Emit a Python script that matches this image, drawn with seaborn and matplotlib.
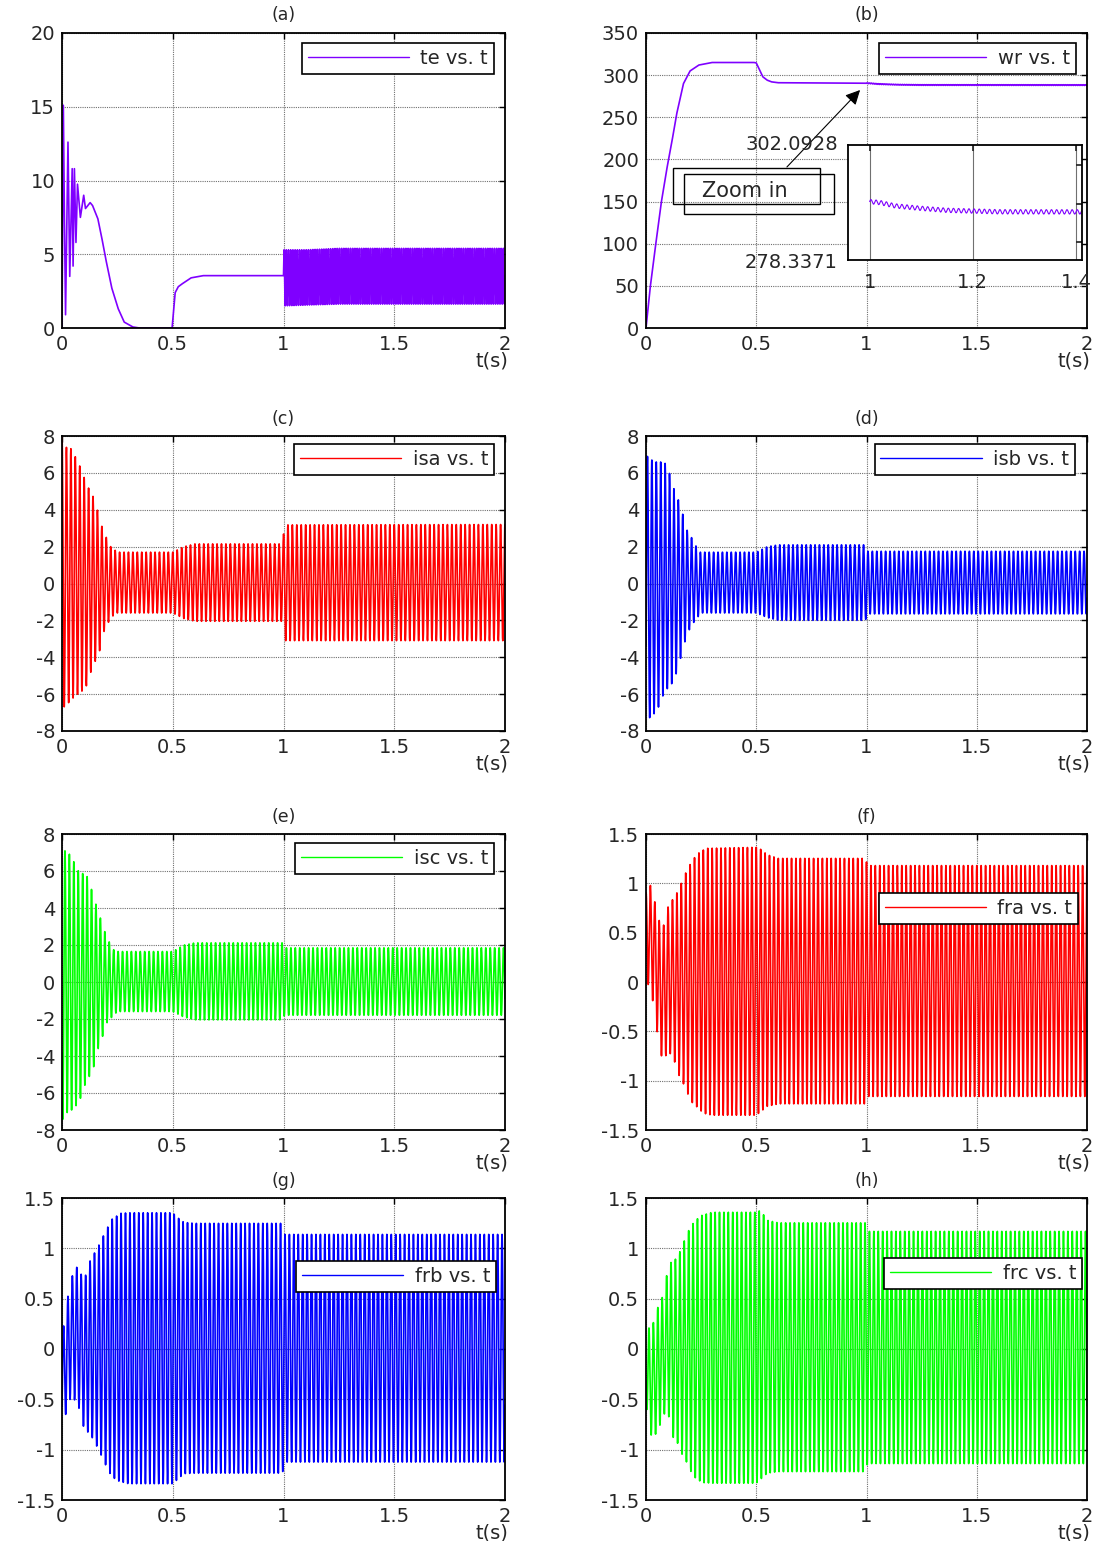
import numpy as np
import matplotlib
matplotlib.use("Agg")
import matplotlib.pyplot as plt
import seaborn as sns
from matplotlib.patches import Rectangle, FancyArrowPatch

# ---------------------------------------------------------------------------
# Simulation settings
# ---------------------------------------------------------------------------
T_END = 2.0
DT = 1 / 2000           # logged step of every quantity (s)
F_SUPPLY = 50.0         # stator / flux frequency (Hz)
F_RIPPLE = 100.0        # torque / speed ripple after the fault (Hz)

# ---------------------------------------------------------------------------
# Electromagnetic torque te (N.m)
# ---------------------------------------------------------------------------
TE_T = [0.0, 0.006, 0.011, 0.016, 0.027, 0.035, 0.046, 0.05, 0.056, 0.063,
        0.07, 0.083, 0.098, 0.106, 0.127, 0.138, 0.162, 0.181, 0.2, 0.225,
        0.254, 0.281, 0.32, 0.35, 0.497, 0.511, 0.525, 0.543, 0.583, 0.638, 1.0]
TE_V = [0.0, 15.1, 7.4, 0.9, 12.6, 3.5, 10.8, 4.2, 10.8, 5.8,
        9.75, 7.5, 9.0, 8.1, 8.5, 8.3, 7.4, 6.0, 4.5, 2.7,
        1.3, 0.4, 0.07, 0.0, 0.0, 2.4, 2.8, 3.0, 3.4, 3.55, 3.55]
TE_RIP_T = [1.0, 1.1, 1.25, 2.0]
TE_RIP_UP = [5.3, 5.3, 5.4, 5.4]
TE_RIP_LO = [1.5, 1.55, 1.62, 1.62]

# ---------------------------------------------------------------------------
# Rotor speed wr (rad/s)
# ---------------------------------------------------------------------------
WR_T = [0.0, 0.02, 0.045, 0.07, 0.096, 0.12, 0.14, 0.17, 0.2, 0.24, 0.3,
        0.49, 0.5, 0.51, 0.53, 0.55, 0.57, 0.6, 1.0]
WR_V = [0.0, 50, 101, 150, 191, 225, 255, 290, 305, 312, 315,
        315, 314.5, 309, 298, 294, 292, 291, 290.4]
WR_RIP_T = [1.0, 1.02, 1.05, 1.1, 1.15, 1.25, 2.0]
WR_RIP_MEAN = [290.4, 290.2, 289.5, 289.0, 288.6, 288.3, 288.2]
WR_RIP_AMP = 0.45
WR_ZOOM_LIM = (278.3371, 302.0928)

# ---------------------------------------------------------------------------
# Stator currents: upper / lower envelopes (A)
# ---------------------------------------------------------------------------
ISA_UP_T = [0.0, 0.016, 0.043, 0.083, 0.114, 0.138, 0.162, 0.18, 0.2, 0.22,
            0.25, 0.5, 0.55, 0.6, 0.995, 1.005, 2.0]
ISA_UP = [8.0, 7.4, 7.3, 6.3, 5.3, 4.8, 3.9, 3.1, 2.5, 2.0,
          1.7, 1.7, 2.0, 2.15, 2.15, 3.18, 3.2]
ISA_LO_T = [0.0, 0.027, 0.059, 0.106, 0.127, 0.154, 0.175, 0.19, 0.21, 0.225,
            0.25, 0.5, 0.55, 0.6, 0.995, 1.005, 2.0]
ISA_LO = [-6.8, -6.5, -6.1, -5.7, -4.9, -4.1, -3.5, -2.6, -2.1, -1.8,
          -1.6, -1.6, -1.9, -2.05, -2.05, -3.1, -3.1]

ISB_UP_T = [0.0, 0.01, 0.027, 0.047, 0.068, 0.092, 0.11, 0.13, 0.148, 0.168,
            0.186, 0.216, 0.24, 0.5, 0.55, 0.6, 0.995, 1.005, 2.0]
ISB_UP = [6.9, 6.9, 6.7, 6.6, 6.6, 6.5, 5.85, 5.0, 4.5, 3.7,
          2.9, 2.3, 1.7, 1.7, 2.0, 2.1, 2.1, 1.75, 1.75]
ISB_LO_T = [0.0, 0.017, 0.035, 0.057, 0.08, 0.103, 0.12, 0.14, 0.159, 0.178,
            0.2, 0.224, 0.25, 0.5, 0.55, 0.6, 0.995, 1.005, 2.0]
ISB_LO = [-6.8, -7.3, -7.1, -6.7, -6.0, -5.6, -5.4, -4.8, -3.95, -3.1,
          -2.4, -1.98, -1.6, -1.6, -1.85, -2.0, -2.0, -1.65, -1.65]

ISC_UP_T = [0.0, 0.016, 0.035, 0.054, 0.07, 0.09, 0.114, 0.138, 0.156, 0.175,
            0.194, 0.214, 0.233, 0.25, 0.5, 0.55, 0.6, 0.995, 1.005, 2.0]
ISC_UP = [7.1, 7.1, 6.9, 6.5, 6.05, 5.9, 5.7, 4.85, 4.1, 3.4,
          2.7, 2.15, 1.75, 1.65, 1.65, 2.0, 2.12, 2.12, 1.85, 1.85]
ISC_LO_T = [0.0, 0.027, 0.05, 0.079, 0.103, 0.124, 0.143, 0.162, 0.183, 0.2,
            0.225, 0.25, 0.5, 0.55, 0.6, 0.995, 1.005, 2.0]
ISC_LO = [-7.5, -7.0, -6.9, -6.45, -5.6, -5.1, -4.6, -3.65, -2.95, -2.25,
          -1.9, -1.6, -1.6, -1.9, -2.05, -2.05, -1.8, -1.8]

# ---------------------------------------------------------------------------
# Rotor fluxes: upper / lower envelopes (Wb)
# ---------------------------------------------------------------------------
FRA_UP_T = [0.0, 0.009, 0.027, 0.05, 0.065, 0.087, 0.1, 0.13, 0.148, 0.167,
            0.185, 0.205, 0.223, 0.245, 0.275, 0.5, 0.52, 0.55, 0.6, 0.995,
            1.005, 2.0]
FRA_UP = [0.9, 1.07, 0.92, 0.73, 0.57, 0.58, 0.76, 0.87, 0.93, 1.04,
          1.13, 1.21, 1.27, 1.32, 1.355, 1.365, 1.345, 1.29, 1.253, 1.253,
          1.18, 1.18]
FRA_LO_T = [0.0, 0.02, 0.038, 0.054, 0.072, 0.095, 0.117, 0.137, 0.155, 0.178,
            0.193, 0.212, 0.233, 0.26, 0.3, 0.5, 0.55, 0.6, 0.995, 1.005, 2.0]
FRA_LO = [0.0, -0.05, -0.3, -0.57, -0.77, -0.74, -0.72, -0.86, -0.98, -1.06,
          -1.155, -1.23, -1.27, -1.33, -1.35, -1.35, -1.26, -1.235, -1.235,
          -1.16, -1.16]

FRB_UP_T = [0.0, 0.011, 0.035, 0.054, 0.075, 0.09, 0.106, 0.13, 0.154, 0.175,
            0.194, 0.225, 0.265, 0.3, 0.5, 0.52, 0.55, 0.6, 0.995, 1.005, 2.0]
FRB_UP = [0.0, 0.36, 0.61, 0.8, 0.82, 0.72, 0.73, 0.9, 0.98, 1.07,
          1.16, 1.29, 1.35, 1.355, 1.355, 1.31, 1.26, 1.25, 1.25, 1.14, 1.14]
FRB_LO_T = [0.0, 0.024, 0.043, 0.079, 0.098, 0.122, 0.146, 0.165, 0.183, 0.2,
            0.222, 0.249, 0.3, 0.5, 0.55, 0.6, 0.995, 1.005, 2.0]
FRB_LO = [-0.76, -0.6, -0.45, -0.6, -0.78, -0.84, -0.91, -1.01, -1.08, -1.17,
          -1.26, -1.31, -1.34, -1.34, -1.24, -1.235, -1.235, -1.125, -1.125]

FRC_UP_T = [0.0, 0.02, 0.035, 0.057, 0.08, 0.1, 0.12, 0.14, 0.16, 0.178,
            0.198, 0.224, 0.254, 0.3, 0.5, 0.52, 0.55, 0.6, 0.995, 1.005, 2.0]
FRC_UP = [0.23, 0.2, 0.27, 0.44, 0.54, 0.82, 0.88, 0.9, 1.0, 1.1,
          1.2, 1.28, 1.33, 1.36, 1.36, 1.38, 1.28, 1.255, 1.255, 1.17, 1.17]
FRC_LO_T = [0.0, 0.012, 0.03, 0.053, 0.073, 0.092, 0.11, 0.13, 0.148, 0.168,
            0.186, 0.208, 0.231, 0.262, 0.3, 0.5, 0.55, 0.6, 0.995, 1.005, 2.0]
FRC_LO = [-0.5, -0.83, -0.87, -0.83, -0.69, -0.61, -0.71, -0.96, -0.93, -1.08,
          -1.13, -1.24, -1.3, -1.33, -1.335, -1.335, -1.235, -1.22, -1.22,
          -1.14, -1.14]

# phase angles of the three windings (rad)
PHASE_A = np.pi / 2
PHASE_B = np.pi / 2 - 2 * np.pi / 3
PHASE_C = np.pi / 2 + 2 * np.pi / 3

PURPLE, RED, BLUE, GREEN = "#7f00ff", "#ff0000", "#0000ff", "#00ff00"


def oscillation(t, up_t, up, lo_t, lo, freq, phase):
    """AC quantity bounded by its upper/lower envelopes."""
    hi = np.interp(t, up_t, up)
    low = np.interp(t, lo_t, lo)
    return (hi + low) / 2 + (hi - low) / 2 * np.sin(2 * np.pi * freq * t + phase)


t = np.arange(0.0, T_END + DT / 2, DT)

isa = oscillation(t, ISA_UP_T, ISA_UP, ISA_LO_T, ISA_LO, F_SUPPLY, PHASE_A)
isb = oscillation(t, ISB_UP_T, ISB_UP, ISB_LO_T, ISB_LO, F_SUPPLY, PHASE_B)
isc = oscillation(t, ISC_UP_T, ISC_UP, ISC_LO_T, ISC_LO, F_SUPPLY, PHASE_C)
fra = oscillation(t, FRA_UP_T, FRA_UP, FRA_LO_T, FRA_LO, F_SUPPLY, PHASE_A)
frb = oscillation(t, FRB_UP_T, FRB_UP, FRB_LO_T, FRB_LO, F_SUPPLY, PHASE_B)
frc = oscillation(t, FRC_UP_T, FRC_UP, FRC_LO_T, FRC_LO, F_SUPPLY, PHASE_C)

t_post = t[t > 1.0]
te_t = np.concatenate([TE_T, t_post])
te = np.concatenate([TE_V, oscillation(t_post, TE_RIP_T, TE_RIP_UP,
                                       TE_RIP_T, TE_RIP_LO, F_RIPPLE, 0.0)])
wr_mean = np.interp(t_post, WR_RIP_T, WR_RIP_MEAN)
wr_t = np.concatenate([WR_T, t_post])
wr = np.concatenate([WR_V, wr_mean + WR_RIP_AMP * np.sin(2 * np.pi * F_RIPPLE * t_post)])

# ---------------------------------------------------------------------------
# Figure
# ---------------------------------------------------------------------------
sns.set_theme(style="white")
plt.rcParams["font.family"] = ["DejaVu Sans"]
plt.rcParams["axes.unicode_minus"] = False

W, H = 1100, 1541
fig = plt.figure(figsize=(W / 100, H / 100), dpi=100)
fig.patch.set_facecolor("white")


def px_axes(x0, x1, y0, y1):
    return fig.add_axes([x0 / W, 1 - y1 / H, (x1 - x0) / W, (y1 - y0) / H])


COL = [(62, 505), (646, 1087)]
ROW = [(33, 328), (436, 731), (834, 1130), (1198, 1500)]

TICK_FS = 14
XT = [0, 0.5, 1, 1.5, 2]
XTL = ["0", "0.5", "1", "1.5", "2"]

panels = [
    # title, x, y, colour, label, yticks, ylabels, legend anchor (axes frac)
    ("(a)", te_t, te, PURPLE, "te vs. t", [0, 5, 10, 15, 20],
     ["0", "5", "10", "15", "20"], (0.975, 0.966)),
    ("(b)", wr_t, wr, PURPLE, "wr vs. t", list(range(0, 351, 50)),
     [str(v) for v in range(0, 351, 50)], (0.975, 0.966)),
    ("(c)", t, isa, RED, "isa vs. t", list(range(-8, 9, 2)),
     [str(v) for v in range(-8, 9, 2)], (0.975, 0.973)),
    ("(d)", t, isb, BLUE, "isb vs. t", list(range(-8, 9, 2)),
     [str(v) for v in range(-8, 9, 2)], (0.973, 0.973)),
    ("(e)", t, isc, GREEN, "isc vs. t", list(range(-8, 9, 2)),
     [str(v) for v in range(-8, 9, 2)], (0.975, 0.970)),
    ("(f)", t, fra, RED, "fra vs. t", [-1.5, -1, -0.5, 0, 0.5, 1, 1.5],
     ["-1.5", "-1", "-0.5", "0", "0.5", "1", "1.5"], (0.98, 0.80)),
    ("(g)", t, frb, BLUE, "frb vs. t", [-1.5, -1, -0.5, 0, 0.5, 1, 1.5],
     ["-1.5", "-1", "-0.5", "0", "0.5", "1", "1.5"], (0.98, 0.79)),
    ("(h)", t, frc, GREEN, "frc vs. t", [-1.5, -1, -0.5, 0, 0.5, 1, 1.5],
     ["-1.5", "-1", "-0.5", "0", "0.5", "1", "1.5"], (0.989, 0.80)),
]

axes = []
for i, (title, x, y, colour, label, yt, ytl, anchor) in enumerate(panels):
    (x0, x1), (y0, y1) = COL[i % 2], ROW[i // 2]
    ax = px_axes(x0, x1, y0, y1)
    axes.append(ax)
    sns.lineplot(x=x, y=y, ax=ax, color=colour, linewidth=1.2,
                 estimator=None, sort=False, label=label)
    ax.set_xlim(0, 2)
    ax.set_ylim(yt[0], yt[-1])
    ax.set_xticks(XT)
    ax.set_xticklabels(XTL)
    ax.set_yticks(yt)
    ax.set_yticklabels(ytl)
    ax.set_xlabel("")
    ax.set_ylabel("")
    ax.grid(True, color="#707070", linestyle=(0, (1, 1)), linewidth=0.8)
    ax.tick_params(direction="in", top=True, right=True, length=4, width=1,
                   color="black", labelsize=TICK_FS, pad=5)
    for sp in ax.spines.values():
        sp.set_color("black")
        sp.set_linewidth(1.3)
    ax.set_title(title, fontsize=12.5, pad=9)
    ax.text(1.0 + 3 / (x1 - x0), -33 / (y1 - y0), "t(s)", transform=ax.transAxes,
            ha="right", va="center", fontsize=TICK_FS)
    leg = ax.legend(loc="upper right", bbox_to_anchor=anchor, fontsize=TICK_FS,
                    frameon=True, fancybox=False, framealpha=1,
                    edgecolor="black", handlelength=5.2, handletextpad=0.6,
                    borderpad=0.3, borderaxespad=0)
    leg.get_frame().set_linewidth(1.2)
    for ln in leg.get_lines():
        ln.set_linewidth(1.0)

# ---------------------------------------------------------------------------
# Zoomed view of the speed after the fault (panel b)
# ---------------------------------------------------------------------------
inset = px_axes(848, 1082, 145, 260)
mask = (wr_t >= 0.95) & (wr_t <= 1.42)
sns.lineplot(x=wr_t[mask], y=wr[mask], ax=inset, color=PURPLE, linewidth=0.8,
             estimator=None, sort=False)
inset.set_xlim(0.958, 1.4116)
inset.set_ylim(*WR_ZOOM_LIM)
inset.set_xticks([1.0, 1.2, 1.4])
inset.set_xticklabels(["1", "1.2", "1.4"])
inset.set_yticks([282, 290, 298])
inset.set_yticklabels([])
inset.set_xlabel("")
inset.set_ylabel("")
inset.grid(True, axis="x", color="#707070", linewidth=0.8)
inset.tick_params(direction="in", top=True, right=True, length=4,
                  labelsize=TICK_FS, pad=9)
for sp in inset.spines.values():
    sp.set_color("black")
    sp.set_linewidth(1.3)
inset.set_facecolor("white")

fig.text(838 / W, 1 - 145 / H, f"{WR_ZOOM_LIM[1]:.4f}", ha="right", va="center",
         fontsize=TICK_FS)
fig.text(838 / W, 1 - 262 / H, f"{WR_ZOOM_LIM[0]:.4f}", ha="right", va="center",
         fontsize=TICK_FS)


def px_rect(x0, y0, x1, y1):
    fig.add_artist(Rectangle((x0 / W, 1 - y1 / H), (x1 - x0) / W, (y1 - y0) / H,
                             transform=fig.transFigure, fill=False,
                             edgecolor="black", linewidth=1.0))


px_rect(672.6, 167.7, 819.8, 204)
px_rect(684, 174, 834, 214)
fig.text(745 / W, 1 - 191 / H, "Zoom in", ha="center", va="center",
         fontsize=15)
fig.add_artist(FancyArrowPatch((785 / W, 1 - 169 / H), (862 / W, 1 - 88 / H),
                               transform=fig.transFigure, arrowstyle="-|>",
                               mutation_scale=22, linewidth=0.8, color="black"))

fig.savefig("out.png", dpi=100, facecolor="white")
